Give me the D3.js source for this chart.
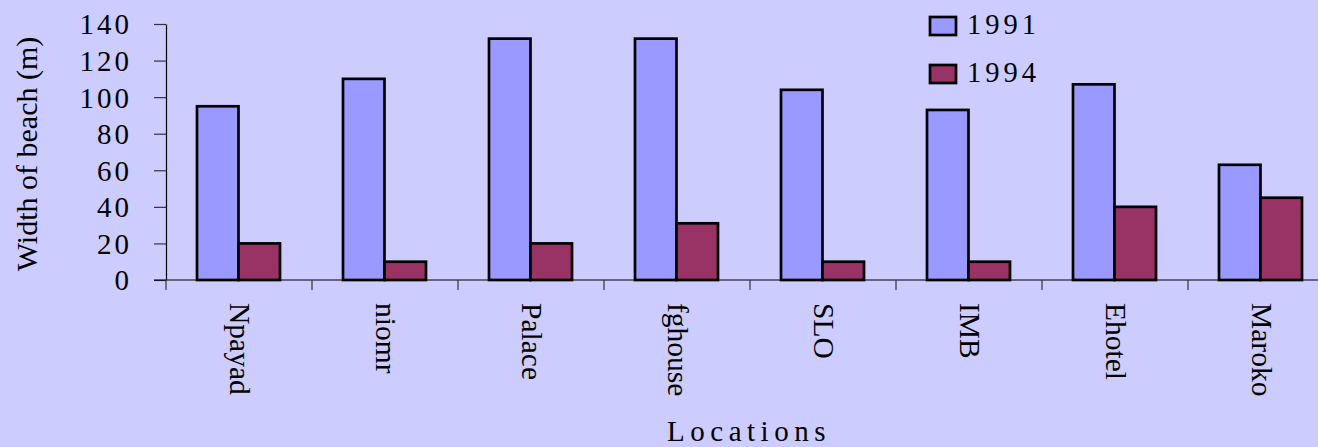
<!DOCTYPE html>
<html>
<head>
<meta charset="utf-8">
<script src="https://cdn.jsdelivr.net/npm/d3@7"></script>
<style>
  html, body { margin: 0; padding: 0; background: #CCCCFF; }
  svg { display: block; }
  text { font-family: "Liberation Serif", "Times New Roman", serif; fill: #000; }
</style>
</head>
<body>
<svg id="chart" width="1318" height="447"></svg>
<script>
// Beach width at each location, surveyed in 1991 and 1994
const locations = ["Npayad", "niomr", "Palace", "fghouse", "SLO", "IMB", "Ehotel", "Maroko"];
const years = ["1991", "1994"];
const width1991 = [95, 110, 132, 132, 104, 93, 107, 63];
const width1994 = [20, 10, 20, 31, 10, 10, 40, 45];
const yTicks = [0, 20, 40, 60, 80, 100, 120, 140];
const seriesColors = ["#9999FF", "#993366"];

const svg = d3.select("#chart");
const W = 1318, H = 447;
svg.append("rect").attr("width", W).attr("height", H).attr("fill", "#CCCCFF");

const plot = { left: 166, top: 24, bottom: 280, band: 146 };

const x0 = d3.scaleBand()
  .domain(locations)
  .range([plot.left, plot.left + plot.band * locations.length])
  .padding(0);

const x1 = d3.scaleBand()
  .domain(years)
  .range([31, x0.bandwidth() - 32])
  .padding(0);

const y = d3.scaleLinear().domain([0, 140]).range([plot.bottom, plot.top]);

const rows = locations.map((loc, i) => ({
  loc,
  values: [
    { year: "1991", v: width1991[i], c: seriesColors[0] },
    { year: "1994", v: width1994[i], c: seriesColors[1] }
  ]
}));

// Bars
const groups = svg.append("g").selectAll("g")
  .data(rows).join("g")
  .attr("transform", d => `translate(${x0(d.loc)},0)`);

groups.selectAll("rect")
  .data(d => d.values).join("rect")
  .attr("x", d => x1(d.year))
  .attr("y", d => y(d.v))
  .attr("width", x1.bandwidth())
  .attr("height", d => y(0) - y(d.v))
  .attr("fill", d => d.c)
  .attr("stroke", "#000")
  .attr("stroke-width", 2.7);

// Y axis
const yAxis = svg.append("g")
  .attr("transform", `translate(${plot.left},0)`)
  .call(d3.axisLeft(y).tickValues(yTicks).tickSize(12).tickSizeOuter(0).tickPadding(22));
yAxis.select(".domain").attr("stroke", "#000").attr("stroke-width", 1.2);
yAxis.selectAll(".tick line").attr("stroke", "#333").attr("stroke-width", 1.2);
yAxis.selectAll(".tick text")
  .style("font-family", "'Liberation Serif', 'Times New Roman', serif")
  .style("font-size", "29px")
  .style("letter-spacing", "3px")
  .attr("dy", "0.34em");

// X axis line with category boundary ticks
svg.append("line")
  .attr("x1", plot.left - 12).attr("x2", W)
  .attr("y1", y(0)).attr("y2", y(0))
  .attr("stroke", "#000").attr("stroke-width", 1.2);

const bounds = locations.map(l => x0(l)).concat([x0.range()[1]]);
svg.append("g").selectAll("line")
  .data(bounds).join("line")
  .attr("x1", d => d).attr("x2", d => d)
  .attr("y1", y(0)).attr("y2", y(0) + 10)
  .attr("stroke", "#333").attr("stroke-width", 1.2);

// Category labels, rotated to read downward
svg.append("g").selectAll("text")
  .data(locations).join("text")
  .attr("transform", d => `translate(${x0(d) + x0.bandwidth() / 2},303) rotate(90)`)
  .attr("dy", "0.3em")
  .attr("text-anchor", "start")
  .style("font-size", "29.5px")
  .text(d => d);

// Axis titles
svg.append("text")
  .attr("transform", "translate(37,154) rotate(-90)")
  .attr("text-anchor", "middle")
  .style("font-size", "30px")
  .text("Width of beach (m)");

svg.append("text")
  .attr("x", 749).attr("y", 441)
  .attr("text-anchor", "middle")
  .style("font-size", "29px")
  .style("letter-spacing", "5.5px")
  .text("Locations");

// Legend
const legend = svg.append("g").selectAll("g")
  .data(years).join("g")
  .attr("transform", (d, i) => `translate(930,${17 + i * 48})`);
legend.append("rect")
  .attr("width", 26).attr("height", 18)
  .attr("fill", (d, i) => seriesColors[i])
  .attr("stroke", "#000").attr("stroke-width", 2.7);
legend.append("text")
  .attr("x", 37).attr("y", 17)
  .style("font-size", "28.5px")
  .style("letter-spacing", "4px")
  .text(d => d);
</script>
</body>
</html>
